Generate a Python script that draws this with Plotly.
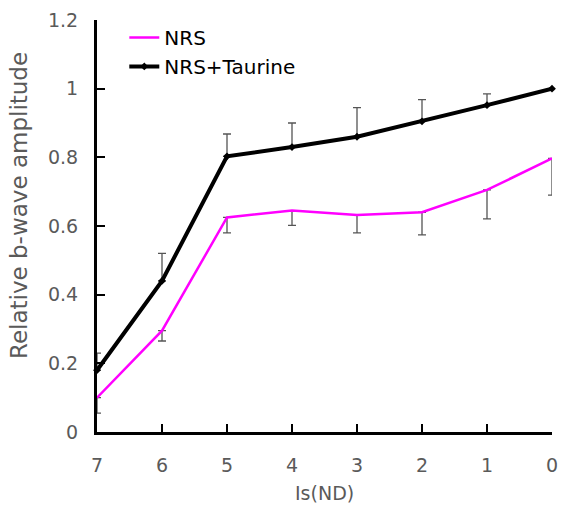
import plotly.graph_objects as go

x_vals = [7, 6, 5, 4, 3, 2, 1, 0]
nrs = [0.10, 0.295, 0.625, 0.645, 0.632, 0.64, 0.705, 0.797]
nrs_err_minus = [0.045, 0.03, 0.045, 0.043, 0.052, 0.066, 0.084, 0.107]
tau = [0.18, 0.44, 0.803, 0.83, 0.86, 0.905, 0.952, 1.0]
tau_err_plus = [0.05, 0.08, 0.065, 0.07, 0.085, 0.063, 0.033, 0.0]
zeros = [0] * len(x_vals)
x_ticks = [7, 6, 5, 4, 3, 2, 1, 0]
y_ticks = [0, 0.2, 0.4, 0.6, 0.8, 1.0, 1.2]
y_tick_text = ["0", "0.2", "0.4", "0.6", "0.8", "1", "1.2"]

FONT = "DejaVu Sans, Noto Sans, sans-serif"
GRAY = "#5a5a5a"

fig = go.Figure()
fig.add_trace(go.Scatter(
    x=x_vals, y=nrs, name="NRS", mode="lines",
    line=dict(color="#ff00ff", width=2.5),
    error_y=dict(type="data", symmetric=False, array=zeros, arrayminus=nrs_err_minus,
                 color="#555555", thickness=1.3, width=4),
    cliponaxis=False,
))
fig.add_trace(go.Scatter(
    x=x_vals, y=tau, name="NRS+Taurine", mode="lines+markers",
    line=dict(color="black", width=4),
    marker=dict(symbol="diamond", size=6, color="black"),
    error_y=dict(type="data", symmetric=False, array=tau_err_plus, arrayminus=zeros,
                 color="#555555", thickness=1.3, width=4),
    cliponaxis=False,
))

tick_font = dict(family=FONT, size=19, color=GRAY)
fig.update_layout(
    width=567, height=509,
    margin=dict(l=97, r=9, t=18, b=77),
    plot_bgcolor="white", paper_bgcolor="white",
    showlegend=True,
    legend=dict(x=0.06, y=1.005, xanchor="left", yanchor="top",
                font=dict(family=FONT, size=20, color="black"),
                bgcolor="rgba(0,0,0,0)", tracegroupgap=0, itemwidth=30),
    xaxis=dict(range=[7, 0], tickvals=x_ticks, ticktext=[str(v) for v in x_ticks],
               showgrid=False, zeroline=False, showline=True, linecolor="black", linewidth=3,
               ticks="inside", ticklen=8, tickwidth=2, tickcolor="black",
               tickfont=tick_font, ticklabelstandoff=14),
    yaxis=dict(range=[0, 1.2], tickvals=y_ticks, ticktext=y_tick_text,
               showgrid=False, zeroline=False, showline=True, linecolor="black", linewidth=3,
               ticks="inside", ticklen=8, tickwidth=2, tickcolor="black",
               tickfont=tick_font, ticklabelstandoff=12),
    annotations=[
        dict(text="Relative b-wave amplitude", xref="paper", yref="paper",
             x=-0.17, y=0.55, xanchor="center", yanchor="middle", textangle=-90,
             showarrow=False, font=dict(family=FONT, size=23, color=GRAY)),
        dict(text="Is(ND)", xref="paper", yref="paper",
             x=0.5, y=-0.148, xanchor="center", yanchor="middle",
             showarrow=False, font=dict(family=FONT, size=19, color=GRAY)),
    ],
)
fig.write_html("out.html")
